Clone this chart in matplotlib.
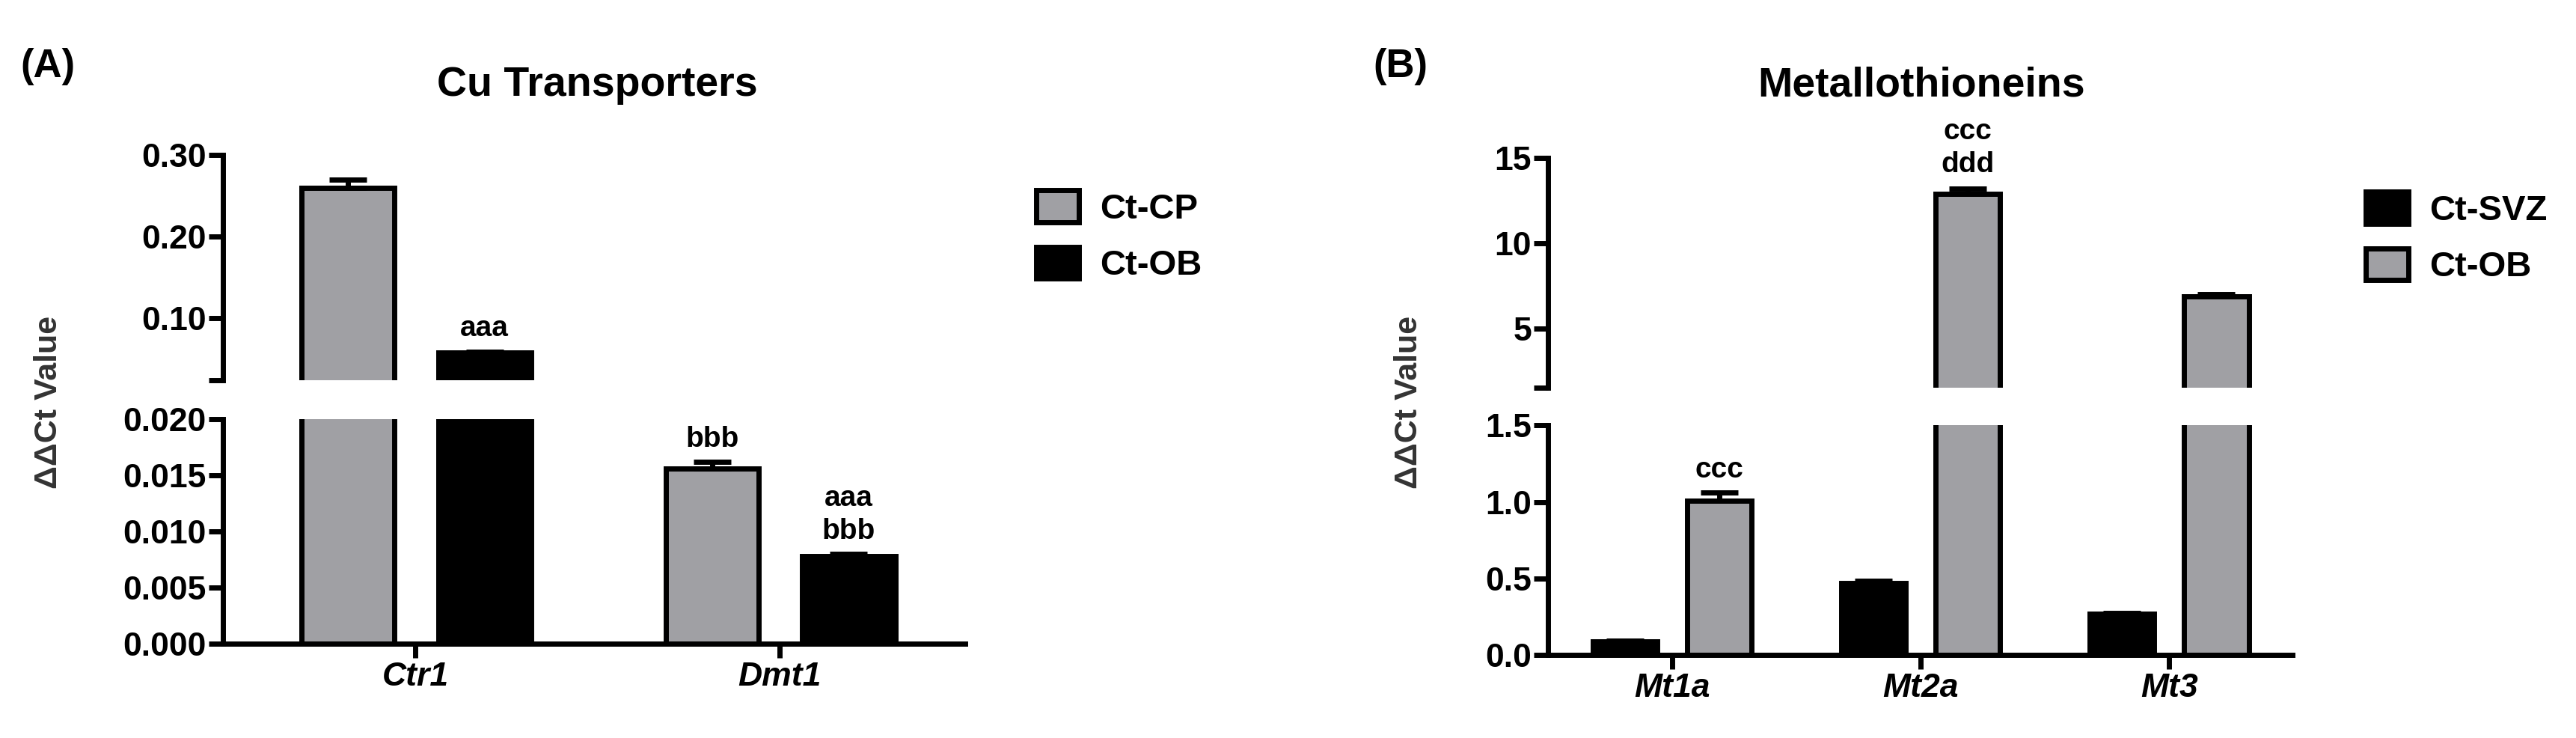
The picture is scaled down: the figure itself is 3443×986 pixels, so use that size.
import matplotlib
matplotlib.use("Agg")
import matplotlib.pyplot as plt
from matplotlib.patches import Patch

FAM = ['Liberation Sans Narrow', 'Liberation Sans', 'DejaVu Sans']
plt.rcParams['font.family'] = FAM
plt.rcParams['font.weight'] = 'bold'

GRAY = '#a0a0a4'

# Panel A data
genesA = ['Ctr1', 'Dmt1']
cp_vals = [0.26, 0.0156]
cp_err = [0.010, 0.0006]
ob_vals = [0.058, 0.0078]
ob_err = [0.001, 0.0002]
annA_cp = ['', 'bbb']
annA_ob = ['aaa', 'aaa\nbbb']

# Panel B data
genesB = ['Mt1a', 'Mt2a', 'Mt3']
svz_vals = [0.09, 0.47, 0.27]
svz_err = [0.005, 0.015, 0.006]
obB_vals = [1.01, 12.9, 6.9]
obB_err = [0.05, 0.3, 0.12]
annB_ob = ['ccc', 'ccc\nddd', '']

fig = plt.figure(figsize=(34.43, 9.86), dpi=100)

LW = 5
TICKFS = 32

def style(ax, bottom):
    for s in ['top', 'right']:
        ax.spines[s].set_visible(False)
    ax.spines['left'].set_linewidth(LW)
    ax.spines['bottom'].set_linewidth(LW)
    ax.spines['bottom'].set_visible(bottom)
    ax.tick_params(axis='y', width=LW, length=14, labelsize=TICKFS, pad=2)
    ax.tick_params(axis='x', width=LW, length=14 if bottom else 0, labelsize=TICKFS)

def draw_bars(axes, xs, vals, errs, color, width):
    for ax in axes:
        ax.bar(xs, vals, width=width, color=color, edgecolor='black', linewidth=LW, zorder=2)
        ax.errorbar(xs, vals, yerr=[[0]*len(vals), errs], fmt='none', ecolor='black',
                    elinewidth=LW, capsize=18, capthick=LW, zorder=3)

# ---------- Panel A ----------
axAu = fig.add_axes([0.0866, 0.485, 0.288, 0.305])
axAl = fig.add_axes([0.0866, 0.128, 0.288, 0.304])
xA = list(range(len(genesA)))
wA = 0.255
xcp = [x - 0.185 for x in xA]
xob = [x + 0.19 for x in xA]
draw_bars([axAu, axAl], xcp, cp_vals, cp_err, GRAY, wA)
draw_bars([axAu, axAl], xob, ob_vals, ob_err, 'black', wA)
for ax in (axAu, axAl):
    ax.set_xlim(-0.528, 1.509)
axAu.set_ylim(0.024, 0.30)
axAu.set_yticks([0.024, 0.10, 0.20, 0.30])
axAu.set_yticklabels(['', '0.10', '0.20', '0.30'])
axAu.set_xticks([])
axAl.set_ylim(0, 0.020)
axAl.set_yticks([0, 0.005, 0.010, 0.015, 0.020])
axAl.set_yticklabels(['0.000', '0.005', '0.010', '0.015', '0.020'])
axAl.set_xticks(xA)
axAl.set_xticklabels(genesA, style='italic', fontsize=34)
style(axAu, False)
style(axAl, True)
for i in range(len(genesA)):
    if annA_cp[i]:
        axAl.text(xcp[i], cp_vals[i] + cp_err[i] + 0.0008, annA_cp[i], ha='center', va='bottom',
                  fontsize=28, linespacing=1.3)
    if annA_ob[i]:
        ax = axAu if ob_vals[i] > 0.02 else axAl
        off = 0.012 if ax is axAu else 0.0008
        ax.text(xob[i], ob_vals[i] + ob_err[i] + off, annA_ob[i], ha='center', va='bottom',
                fontsize=28, linespacing=1.3)
fig.legend(handles=[Patch(facecolor=GRAY, edgecolor='black', linewidth=LW, label='Ct-CP'),
                    Patch(facecolor='black', edgecolor='black', linewidth=LW, label='Ct-OB')],
           loc='upper left', bbox_to_anchor=(0.390, 0.785), frameon=False, fontsize=34,
           handlelength=1.2, handleheight=1.0, labelspacing=0.6, handletextpad=0.6)
fig.text(0.232, 0.884, 'Cu Transporters', ha='center', va='center', fontsize=40)
fig.text(0.008, 0.91, '(A)', ha='left', va='center', fontsize=38, family='Liberation Sans')
fig.text(0.019, 0.455, 'ΔΔCt Value', ha='center', va='center', rotation=90, fontsize=31,
         family=['Liberation Sans', 'DejaVu Sans'], color='#333333')

# ---------- Panel B ----------
axBu = fig.add_axes([0.601, 0.475, 0.289, 0.311])
axBl = fig.add_axes([0.601, 0.1126, 0.289, 0.311])
xB = list(range(len(genesB)))
wB = 0.26
xsvz = [x - 0.19 for x in xB]
xobB = [x + 0.19 for x in xB]
draw_bars([axBu, axBl], xsvz, svz_vals, svz_err, 'black', wB)
draw_bars([axBu, axBl], xobB, obB_vals, obB_err, GRAY, wB)
for ax in (axBu, axBl):
    ax.set_xlim(-0.5, 2.497)
axBu.set_ylim(1.55, 15)
axBu.set_yticks([1.55, 5, 10, 15])
axBu.set_yticklabels(['', '5', '10', '15'])
axBu.set_xticks([])
axBl.set_ylim(0, 1.5)
axBl.set_yticks([0, 0.5, 1.0, 1.5])
axBl.set_yticklabels(['0.0', '0.5', '1.0', '1.5'])
axBl.set_xticks(xB)
axBl.set_xticklabels(genesB, style='italic', fontsize=34)
style(axBu, False)
style(axBl, True)
for i in range(len(genesB)):
    if annB_ob[i]:
        ax = axBu if obB_vals[i] > 1.5 else axBl
        off = 0.6 if ax is axBu else 0.06
        ax.text(xobB[i], obB_vals[i] + obB_err[i] + off, annB_ob[i], ha='center', va='bottom',
                fontsize=28, linespacing=1.3, clip_on=False)
fig.legend(handles=[Patch(facecolor='black', edgecolor='black', linewidth=LW, label='Ct-SVZ'),
                    Patch(facecolor=GRAY, edgecolor='black', linewidth=LW, label='Ct-OB')],
           loc='upper left', bbox_to_anchor=(0.906, 0.783), frameon=False, fontsize=34,
           handlelength=1.2, handleheight=1.0, labelspacing=0.6, handletextpad=0.6)
fig.text(0.746, 0.884, 'Metallothioneins', ha='center', va='center', fontsize=40)
fig.text(0.533, 0.91, '(B)', ha='left', va='center', fontsize=38, family='Liberation Sans')
fig.text(0.547, 0.455, 'ΔΔCt Value', ha='center', va='center', rotation=90, fontsize=31,
         family=['Liberation Sans', 'DejaVu Sans'], color='#333333')

fig.savefig('out.png', dpi=100)
